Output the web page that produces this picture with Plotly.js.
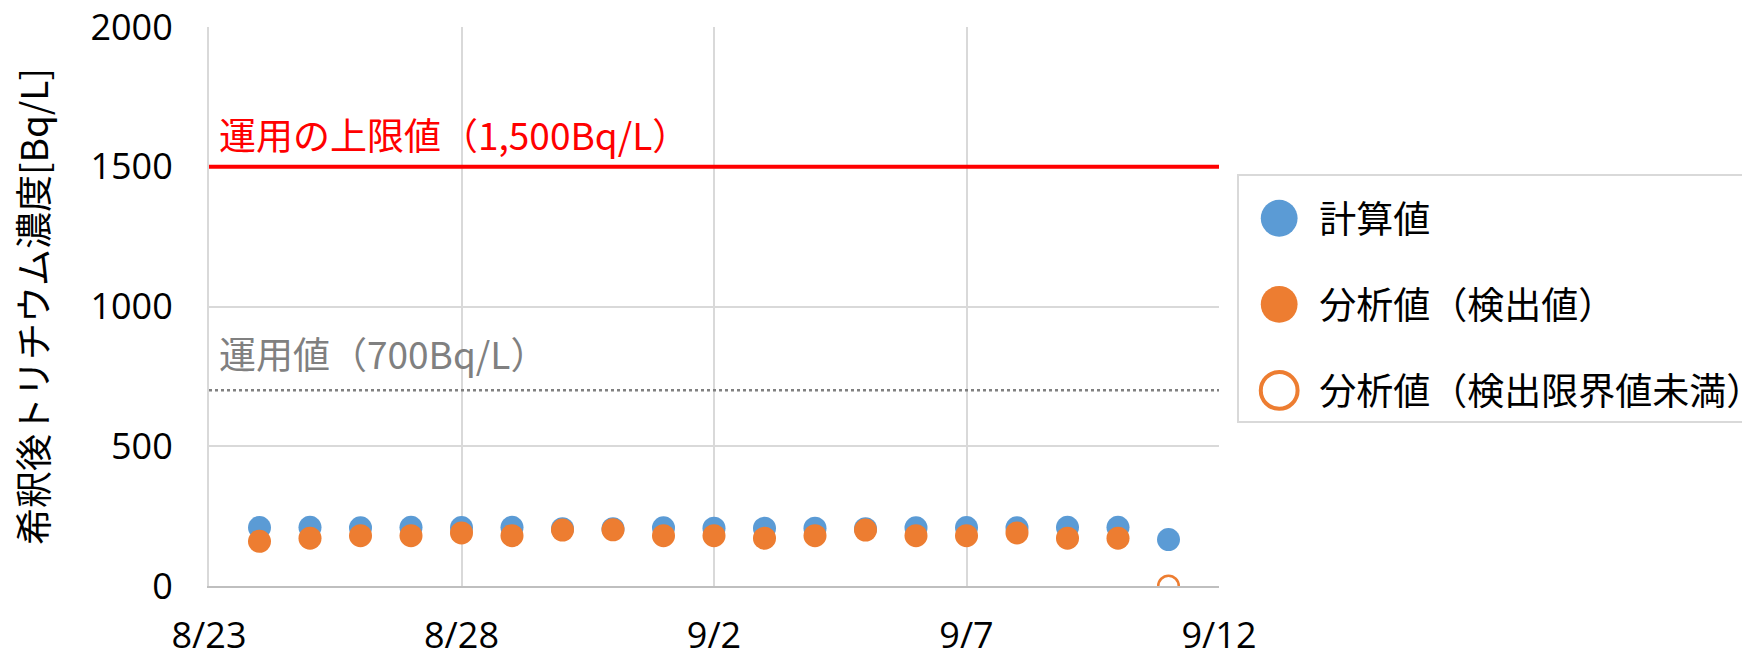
<!DOCTYPE html>
<html>
<head>
<meta charset="utf-8">
<script src="https://cdn.plot.ly/plotly-3.0.1.min.js"></script>
<style>
html,body{margin:0;padding:0;background:#fff;overflow:hidden;}
#chart{width:1742px;height:653px;}
</style>
</head>
<body>
<div id="chart"></div>
<script>
// ---- data ----
const calcDates = ['2023-08-24','2023-08-25','2023-08-26','2023-08-27','2023-08-28','2023-08-29','2023-08-30','2023-08-31','2023-09-01','2023-09-02','2023-09-03','2023-09-04','2023-09-05','2023-09-06','2023-09-07','2023-09-08','2023-09-09','2023-09-10','2023-09-11'];
const calcValues = [209,210,208,210,209,210,205,205,208,207,207,207,205,208,209,208,210,210,166];
const measDates = ['2023-08-24','2023-08-25','2023-08-26','2023-08-27','2023-08-28','2023-08-29','2023-08-30','2023-08-31','2023-09-01','2023-09-02','2023-09-03','2023-09-04','2023-09-05','2023-09-06','2023-09-07','2023-09-08','2023-09-09','2023-09-10'];
const measValues = [160,171,180,180,190,180,200,201,180,180,171,180,200,180,180,190,171,171];
const belowDates = ['2023-09-11'];
const belowValues = [0];
const seriesNames = ['計算値','分析値（検出値）','分析値（検出限界値未満）'];
const upperLimit = 1500;
const operatingValue = 700;
const upperLabel = '運用の上限値（1,500Bq/L）';
const operatingLabel = '運用値（700Bq/L）';
const yTitle = '希釈後トリチウム濃度[Bq/L]';
const xStart = '2023-08-23';
const xEnd = '2023-09-12';
const yTicks = [0,500,1000,1500,2000];

const FONT = '"Noto Sans CJK JP", "Noto Sans", sans-serif';
const TICKFONT = '"Open Sans", "Noto Sans CJK JP", sans-serif';
const BLUE = '#5B9BD5', ORANGE = '#ED7D31';

const traces = [
  {type:'scatter', mode:'markers', x:calcDates, y:calcValues, name:seriesNames[0], legendgroup:'a',
   marker:{color:BLUE, size:23, line:{width:0}}},
  {type:'scatter', mode:'markers', x:measDates, y:measValues, name:seriesNames[1], legendgroup:'b',
   marker:{color:ORANGE, size:23, line:{width:0}}},
  {type:'scatter', mode:'markers', x:belowDates, y:belowValues, name:seriesNames[2], legendgroup:'c',
   marker:{color:'#ffffff', size:20.5, line:{color:ORANGE, width:2.5}}}
];

const layout = {
  width:1742, height:653,
  margin:{l:209, r:523, t:27, b:67, autoexpand:false},
  paper_bgcolor:'#fff', plot_bgcolor:'#fff',
  font:{family:FONT, size:36, color:'#000'},
  showlegend:true,
  xaxis:{
    type:'date', range:[xStart, xEnd], tick0:xStart, dtick:5*86400000,
    tickformat:'%-m/%-d', showgrid:true, gridcolor:'#d9d9d9', gridwidth:2,
    showline:true, linecolor:'#bfbfbf', linewidth:2, zeroline:false,
    ticks:'', ticklabelstandoff:17, automargin:false,
    tickfont:{family:TICKFONT, size:36, color:'#000'}
  },
  yaxis:{
    range:[0,2000.2], tickvals:yTicks, ticktext:yTicks.map(String),
    showgrid:true, gridcolor:'#d9d9d9', gridwidth:2,
    showline:true, linecolor:'#d9d9d9', linewidth:2, zeroline:false,
    ticks:'', ticklabelstandoff:27, automargin:false,
    tickfont:{family:TICKFONT, size:36, color:'#000'},
    title:{text:yTitle, font:{family:FONT, size:37, color:'#000'}, standoff:31}
  },
  shapes:[
    {type:'line', xref:'paper', x0:0, x1:1, yref:'y', y0:upperLimit, y1:upperLimit,
     line:{color:'#ff0000', width:4}},
    {type:'line', xref:'paper', x0:0, x1:1, yref:'y', y0:operatingValue, y1:operatingValue,
     line:{color:'#808080', width:2.5, dash:'dot'}}
  ],
  annotations:[
    {xref:'paper', x:0, xanchor:'left', xshift:8, yref:'y', y:upperLimit, yanchor:'bottom', yshift:4,
     text:upperLabel, showarrow:false, font:{family:FONT, size:37, color:'#ff0000'}},
    {xref:'paper', x:0, xanchor:'left', xshift:8, yref:'y', y:operatingValue, yanchor:'bottom', yshift:8,
     text:operatingLabel, showarrow:false, font:{family:FONT, size:37, color:'#808080'}}
  ],
  legend:{
    x:1.018, xanchor:'left', y:0.737, yanchor:'top',
    bordercolor:'#d9d9d9', borderwidth:2, bgcolor:'#fff',
    font:{family:FONT, size:37, color:'#000'},
    title:{text:' ', font:{family:FONT, size:9}},
    tracegroupgap:35, itemwidth:70
  }
};

Plotly.newPlot('chart', traces, layout, {staticPlot:true, displayModeBar:false}).then(function(){
  // enlarge legend symbols to match the reference
  document.querySelectorAll('.legend .legendpoints path.scatterpts').forEach(function(p){
    const t = p.getAttribute('transform') || '';
    p.setAttribute('transform', t + ' scale(2.3)');
    p.setAttribute('vector-effect','non-scaling-stroke');
    p.style.vectorEffect = 'non-scaling-stroke';
    const sw = parseFloat(p.style.strokeWidth || '0');
    if (sw > 0) p.style.strokeWidth = '4px';
  });
});
</script>
</body>
</html>
